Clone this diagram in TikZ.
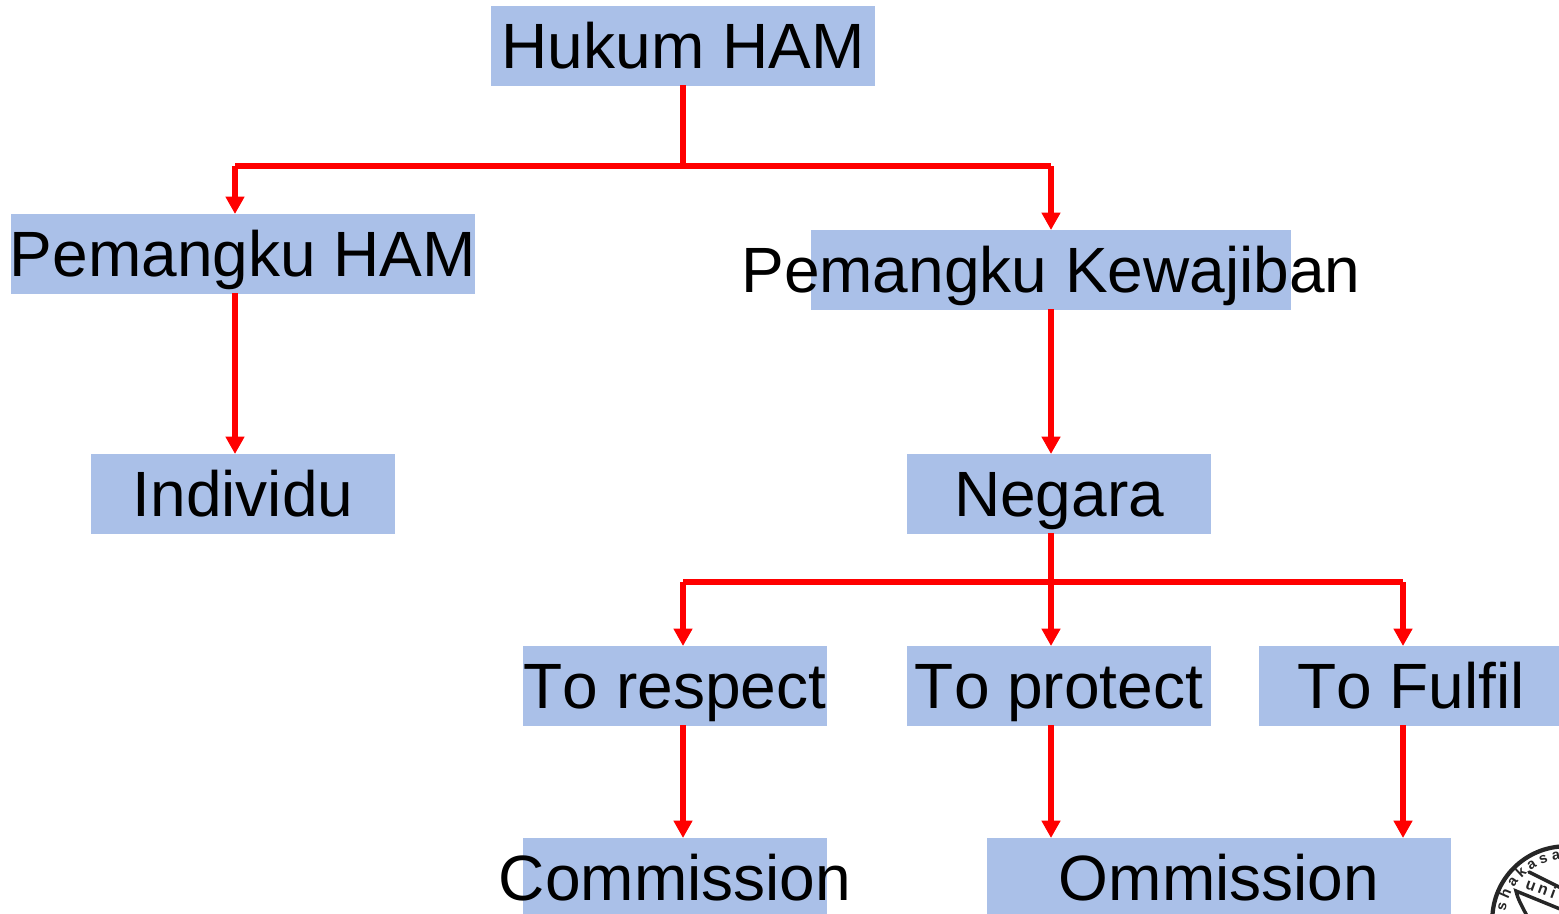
\documentclass[tikz,border=0pt]{standalone}
\usepackage{fontspec}
\setmainfont[Kerning=Off]{Liberation Sans}
\newfontfamily\stampfont[LetterSpace=22,Kerning=Off]{Liberation Sans}
\usetikzlibrary{arrows.meta,decorations.text}
\definecolor{boxblue}{HTML}{AAC0E8}
\definecolor{linered}{HTML}{FF0000}
\tikzset{x=0.0264583cm,y=-0.0264583cm,
  boxn/.style={fill=boxblue,draw=none,inner sep=0pt,outer sep=0pt,anchor=north west},
  lab/.style={inner sep=0pt,anchor=base,font=\fontsize{48.2pt}{48.2pt}\selectfont,text=black},
  link/.style={draw=linered,line width=4pt},
  arr/.style={draw=linered,line width=4pt,-{Triangle[length=13pt,width=13.5pt]}},
  stampline/.style={draw=black!85,line width=2.6pt,line cap=round},
  stamptext/.style={inner sep=0pt,text=black!85,font=\stampfont\fontsize{12pt}{12pt}\selectfont\bfseries}}
\begin{document}
\begin{tikzpicture}
\useasboundingbox (0,0) rectangle (1559,914);
\node[boxn,minimum width=384*0.0264583cm,minimum height=80*0.0264583cm] (ham) at (491,6) {};
\node[boxn,minimum width=464*0.0264583cm,minimum height=80*0.0264583cm] (pham) at (11,214) {};
\node[boxn,minimum width=480*0.0264583cm,minimum height=80*0.0264583cm] (pkw) at (811,230) {};
\node[boxn,minimum width=304*0.0264583cm,minimum height=80*0.0264583cm] (ind) at (91,454) {};
\node[boxn,minimum width=304*0.0264583cm,minimum height=80*0.0264583cm] (neg) at (907,454) {};
\node[boxn,minimum width=304*0.0264583cm,minimum height=80*0.0264583cm] (res) at (523,646) {};
\node[boxn,minimum width=304*0.0264583cm,minimum height=80*0.0264583cm] (pro) at (907,646) {};
\node[boxn,minimum width=300*0.0264583cm,minimum height=80*0.0264583cm] (ful) at (1259,646) {};
\node[boxn,minimum width=304*0.0264583cm,minimum height=76*0.0264583cm] (com) at (523,838) {};
\node[boxn,minimum width=464*0.0264583cm,minimum height=76*0.0264583cm] (omm) at (987,838) {};
\node[lab] (tham) at (683,68) {Hukum HAM};
\node[lab] (tpham) at (243,276) {Pemangku HAM};
\node[lab] (tpkw) at (1051,292) {Pemangku Kewajiban};
\node[lab] (tind) at (243,516) {Individu};
\node[lab] (tneg) at (1059,516) {Negara};
\node[lab] (tres) at (675,708) {To respect};
\node[lab] (tpro) at (1059,708) {To protect};
\node[lab] (tful) at (1411,708) {To Fulfil};
\node[lab] (tcom) at (675,900) {Commission};
\node[lab] (tomm) at (1219,900) {Ommission};
\coordinate (j1) at (683,166);
\coordinate (j1l) at (235,166);
\coordinate (j1r) at (1051,166);
\coordinate (j2) at (1051,582);
\coordinate (j2l) at (683,582);
\coordinate (j2r) at (1403,582);
\coordinate (a1) at (235,214);
\coordinate (a2) at (1051,230);
\draw[link,shorten <=-0.5pt] (ham.south -| j1) -- (j1);
\draw[link] (j1l) -- (j1r);
\draw[arr] (j1l) -- (a1);
\draw[arr] (j1r) -- (a2);
\draw[arr,shorten <=-0.5pt] (pham.south -| j1l) -- (ind.north -| j1l);
\draw[arr,shorten <=-0.5pt] (pkw.south -| j1r) -- (neg.north -| j1r);
\draw[link,shorten <=-0.5pt] (neg.south -| j2) -- (j2);
\draw[link] (j2l) -- (j2r);
\draw[arr] (j2l) -- (res.north -| j2l);
\draw[arr] (j2) -- (pro.north -| j2);
\draw[arr] (j2r) -- (ful.north -| j2r);
\draw[arr,shorten <=-0.5pt] (res.south -| j2l) -- (com.north -| j2l);
\draw[arr,shorten <=-0.5pt] (pro.south -| j2) -- (omm.north -| j2);
\draw[arr,shorten <=-0.5pt] (ful.south -| j2r) -- (omm.north -| j2r);
% stamp, cut off by the corner of the picture
\begin{scope}
\clip (1480,837) rectangle (1559,914);
\coordinate (stampc) at (1566,920);
\draw[stampline,line width=3.2pt] (stampc) circle[radius=55.5pt];
\draw[stampline] (1529,872) -- (1565,890);
\draw[stampline] (1565,911) -- (1516,891) .. controls (1518,900) and (1523,908) .. (1527,916);
\path[decorate,decoration={text along path,raise=0pt,
   text={|\fontsize{11pt}{11pt}\selectfont\bfseries\color{black!85}|s h a k a s a}}]
   ([shift={(172:46pt)}]stampc) arc[start angle=172,end angle=60,radius=46pt];
\node[stamptext,rotate=-20] (stampu) at (1541,888) {uni};
\end{scope}
\end{tikzpicture}
\end{document}
